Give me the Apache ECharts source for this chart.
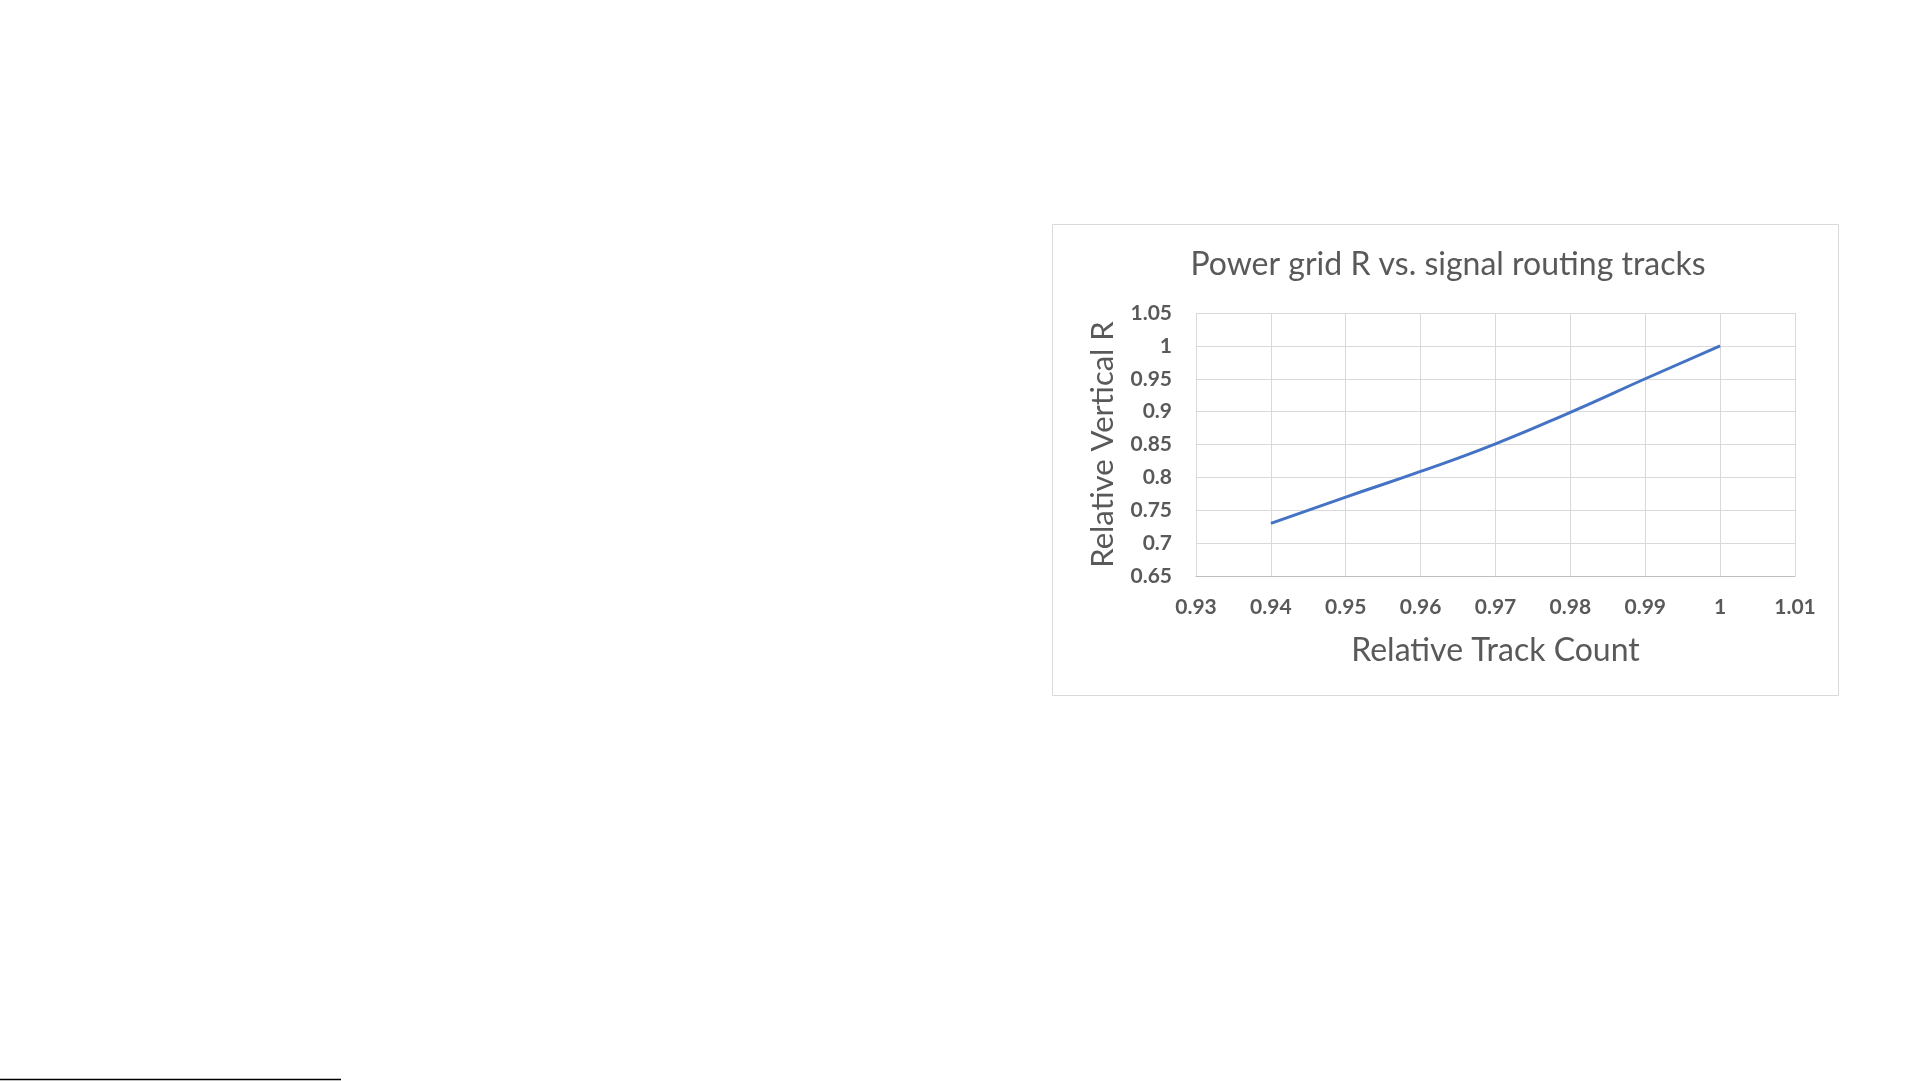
<!DOCTYPE html>
<html>
<head>
<meta charset="utf-8">
<script src="https://cdn.jsdelivr.net/npm/echarts@6/dist/echarts.min.js"></script>
<style>
html,body{margin:0;padding:0;background:#fff;}
#chart{width:1921px;height:1081px;}
</style>
</head>
<body>
<div id="chart"></div>
<script>
const titleText = 'Power grid R vs. signal routing tracks';
const xAxisName = 'Relative Track Count';
const yAxisName = 'Relative Vertical R';
const trackCount = [0.94, 0.95, 0.96, 0.97, 0.98, 0.99, 1.00];
const verticalR = [0.73, 0.77, 0.809, 0.851, 0.899, 0.95, 1.00];

const chart = echarts.init(document.getElementById('chart'), null, {renderer: 'canvas'});
const font = 'Lato, "Open Sans", sans-serif';
chart.setOption({
  backgroundColor: '#ffffff',
  animation: false,
  title: {
    text: titleText,
    left: 1443,
    top: 244,
    textAlign: 'center',
    textStyle: {fontFamily: font, fontSize: 32, fontWeight: 'normal', color: '#595959'}
  },
  graphic: [
    {type: 'rect', shape: {x: 1052.5, y: 224.5, width: 786, height: 471}, style: {fill: 'none', stroke: '#d9d9d9', lineWidth: 1}, z: -1},
    {type: 'line', shape: {x1: 0, y1: 1079.5, x2: 341, y2: 1079.5}, style: {stroke: '#000', lineWidth: 1.5}}
  ],
  grid: {left: 1196, top: 313, width: 599, height: 263, containLabel: false},
  xAxis: {
    type: 'value', min: 0.93, max: 1.01, interval: 0.01,
    name: xAxisName, nameLocation: 'middle', nameGap: 59,
    nameTextStyle: {fontFamily: font, fontSize: 32, color: '#595959'},
    axisLine: {show: true, lineStyle: {color: '#bfbfbf', width: 1}},
    axisTick: {show: false},
    axisLabel: {fontFamily: font, fontSize: 21, fontWeight: 'bold', color: '#595959', margin: 21},
    splitLine: {show: true, lineStyle: {color: '#d9d9d9', width: 1}}
  },
  yAxis: {
    type: 'value', min: 0.65, max: 1.05, interval: 0.05,
    name: yAxisName, nameLocation: 'middle', nameGap: 78,
    nameTextStyle: {fontFamily: font, fontSize: 31, color: '#595959'},
    axisLine: {show: false},
    axisTick: {show: false},
    axisLabel: {fontFamily: font, fontSize: 21, fontWeight: 'bold', color: '#595959', margin: 24},
    splitLine: {show: true, lineStyle: {color: '#d9d9d9', width: 1}}
  },
  series: [{
    type: 'line',
    data: trackCount.map((x, i) => [x, verticalR[i]]),
    smooth: 0.5,
    showSymbol: false,
    lineStyle: {color: '#4472C4', width: 3}
  }]
});
</script>
</body>
</html>
